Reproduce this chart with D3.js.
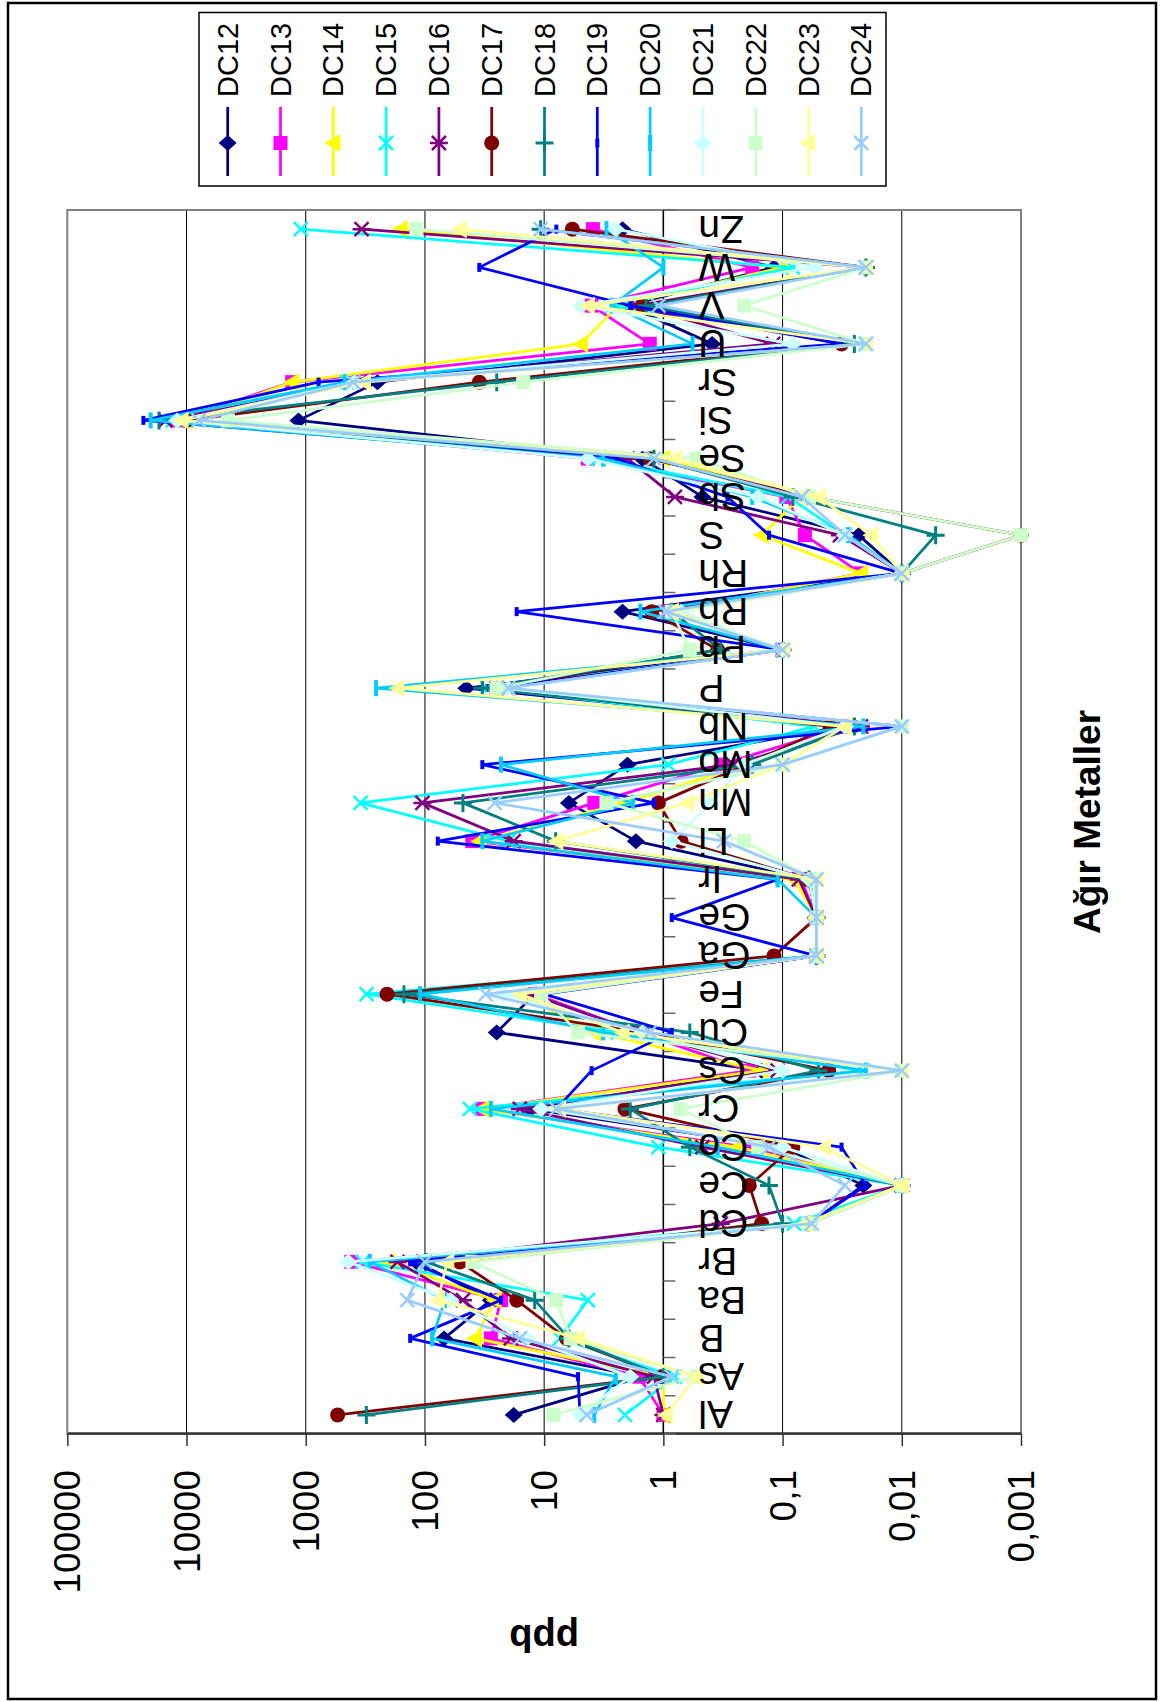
<!DOCTYPE html>
<html>
<head>
<meta charset="utf-8">
<script src="https://cdnjs.cloudflare.com/ajax/libs/d3/7.8.5/d3.min.js"></script>
<style>
  body { margin: 0; background: #fff; }
  svg { display: block; font-family: "Liberation Sans", Arial, sans-serif; }
</style>
</head>
<body>
<div id="chart"></div>
<script>
// DATA -----------------------------------------------------------
const categories = ["Al", "As", "B", "Ba", "Br", "Cd", "Ce", "Co", "Cr", "Cs", "Cu", "Fe", "Ga", "Ge", "Ir", "Li",
                    "Mn", "Mo", "Nb", "P", "Pb", "Rb", "Rh", "S", "Sb", "Se", "Si", "Sr", "U", "V", "W", "Zn"]

const valueTicks = [100000, 10000, 1000, 100, 10, 1, 0.1, 0.01, 0.001]
const tickLabels = ["100000", "10000", "1000", "100", "10", "1", "0,1", "0,01", "0,001"]

const seriesNames = ["DC12", "DC13", "DC14", "DC15", "DC16", "DC17", "DC18", "DC19", "DC20", "DC21", "DC22", "DC23", "DC24"]

//            Al    As   B    Ba   Br   Cd     Ce     Co     Cr   Cs     Cu   Fe   Ga     Ge     Ir     Li    Mn   Mo    Nb     P    Pb    Rb    Rh     S       Sb     Se   Si     Sr    U      V    W      Zn
const dc12 = [18,   1.5, 69,  28,  118, 0.06,  0.021, 0.1,   13,  0.15,  25,  12,  0.052, 0.052, 0.06,  1.7,  6.2, 2.0,  0.03,  45,  0.1,  2.2,  0.01,  0.023,  0.47,  1.5, 1150,  250,  0.39,  2.0, 0.118, 2.2]
const dc13 = [1.0,  1.6, 28,  23,  414, 0.06,  0.01,  0.2,   33,  0.19,  1.6, 12,  0.052, 0.052, 0.07,  40,   3.8, 0.33, 0.03,  25,  0.1,  0.9,  0.022, 0.065,  0.093, 4.3, 12000, 1300, 1.3,   4.0, 0.18,  3.9]
const dc14 = [1.0,  1.0, 38,  26,  203, 0.065, 0.01,  0.24,  33,  0.15,  3.8, 16,  0.052, 0.052, 0.08,  35,   2.1, 0.2,  0.03,  25,  0.1,  0.85, 0.022, 0.15,   0.07,  1.0, 10000, 1300, 4.9,   2.4, 0.1,   160]
const dc15 = [2.1,  0.8, 7.4, 4.3, 333, 0.08,  0.01,  1.1,   42,  0.021, 2.4, 309, 0.052, 0.052, 0.06,  20,   347, 0.91, 0.054, 30,  0.1,  0.85, 0.01,  0.03,   0.09,  3.5, 13000, 450,  0.02,  2.7, 0.082, 1100]
const dc16 = [1.0,  1.2, 19,  48,  170, 0.33,  0.01,  0.47,  16,  0.11,  1.6, 13,  0.052, 0.052, 0.073, 18,   105, 0.26, 0.022, 25,  0.1,  0.85, 0.01,  0.033,  0.8,   2.0, 15000, 350,  0.12,  1.7, 0.02,  340]
const dc17 = [540,  1.0, 6.5, 17,  51,  0.15,  0.19,  0.082, 2.1, 0.041, 1.5, 208, 0.118, 0.052, 0.06,  0.71, 1.1, 0.2,  0.04,  25,  0.35, 1.25, 0.01,  0.001,  0.06,  1.3, 10000, 35,   0.032, 1.5, 0.02,  5.8]
const dc18 = [310,  1.0, 6.2, 12,  98,  0.1,   0.13,  0.6,   1.9, 0.05,  0.6, 150, 0.052, 0.052, 0.06,  8,    48,  0.18, 0.025, 33,  0.33, 0.85, 0.01,  0.0052, 0.082, 1.2, 17000, 25,   0.025, 1.4, 0.02,  10.7]
const dc19 = [5,    5.2, 133, 23,  133, 0.06,  0.02,  0.032, 7.9, 4.0,   0.85, 10, 0.052, 0.85,  0.11,  78,   1.2, 33,   0.01,  25,  0.1,  17,   0.01,  0.13,   0.29,  2.5, 23000, 780,  0.032, 1.9, 35,    7.9]
const dc20 = [3.8,  2.5, 87,  68,  290, 0.06,  0.01,  0.35,  28,  0.02,  3.2, 110, 0.052, 0.052, 0.11,  33,   1.8, 23,   0.021, 257, 0.1,  1.56, 0.01,  0.028,  0.18,  3.2, 20000, 470,  0.57,  2.7, 1.0,   3.0]
const dc21 = [5,    1.9, 14,  61,  440, 0.06,  0.01,  0.1,   10.6, 0.1,  1.5, 22,  0.052, 0.052, 0.06,  0.85, 0.4, 0.21, 0.03,  20,  0.1,  0.71, 0.01,  0.03,   0.16,  4.3, 12000, 390,  0.082, 4.9, 0.054, 2.5]
const dc22 = [8.4,  0.53, 6,  7.9, 40,  0.06,  0.01,  0.16,  0.72, 0.01, 5.2, 10.6, 0.052, 0.052, 0.055, 0.21, 3.0, 0.1, 0.01,  25,  0.6,  0.85, 0.01,  0.001,  0.06,  0.53, 4500, 15,   0.02,  0.21, 0.02, 118]
const dc23 = [0.95, 0.53, 5.2, 78, 65,  0.065, 0.01,  0.045, 7.5, 0.01,  2.2, 16,  0.052, 0.052, 0.052, 7.9,  0.63, 0.1, 0.03,  170, 0.1,  0.85, 0.01,  0.018,  0.05,  0.8, 11000, 325,  0.02,  4.3, 0.02,  51]
const dc24 = [4.4,  0.85, 16, 141, 100, 0.057, 0.03,  0.13,  7.9, 0.01,  1.3, 31,  0.052, 0.052, 0.052, 0.31, 26,  0.1,  0.01,  20,  0.1,  0.96, 0.01,  0.03,   0.069, 1.2, 7900,  400,  0.02,  1.1, 0.02,  10.7]

const seriesValues = [dc12, dc13, dc14, dc15, dc16, dc17, dc18, dc19, dc20, dc21, dc22, dc23, dc24]

const seriesColors = ["#000080", "#FF00FF", "#FFFF00", "#00FFFF", "#800080", "#800000", "#008080",
                      "#0000FF", "#00CCFF", "#CCFFFF", "#CCFFCC", "#FFFF99", "#99CCFF"]
const seriesMarkers = ["diamond", "square", "triangle", "x", "star", "circle", "plus",
                       "shortbar", "longbar", "diamond", "square", "triangle", "x"]

// SETUP -----------------------------------------------------------
// the page is tall; the chart itself is laid out flat (1702 x 1167) and turned a quarter left
const pageW = 1167
const pageH = 1702

const plot = { left: 268, right: 1492, top: 67.3, bottom: 1021 }

const svg = d3.select("#chart").append("svg")
    .attr("width", pageW)
    .attr("height", pageH)

svg.append("rect")
    .attr("width", pageW)
    .attr("height", pageH)
    .attr("fill", "#fff")

const chart = svg.append("g")
    .attr("transform", `translate(0, ${pageH}) rotate(-90)`)

// outer frame
chart.append("rect")
    .attr("x", 3)
    .attr("y", 8)
    .attr("width", 1696)
    .attr("height", 1148)
    .attr("fill", "#fff")
    .attr("stroke", "#000")
    .attr("stroke-width", 2.5)

const xScale = d3.scaleBand()
    .domain(categories)
    .range([plot.left, plot.right])

const yScale = d3.scaleLog()
    .domain([0.001, 100000])
    .range([plot.bottom, plot.top])

const xMid = d => xScale(d) + xScale.bandwidth() / 2

// GRID -----------------------------------------------------------
chart.append("g")
    .selectAll("line")
    .data(valueTicks.filter(d => d > 0.001 && d < 100000))
    .join("line")
        .attr("x1", plot.left)
        .attr("x2", plot.right)
        .attr("y1", d => yScale(d))
        .attr("y2", d => yScale(d))
        .attr("stroke", "#000")
        .attr("stroke-width", 1)

chart.append("rect")
    .attr("x", plot.left)
    .attr("y", plot.top)
    .attr("width", plot.right - plot.left)
    .attr("height", plot.bottom - plot.top)
    .attr("fill", "none")
    .attr("stroke", "#808080")
    .attr("stroke-width", 2)

// AXES -----------------------------------------------------------
const yAxisGenerator = d3.axisLeft(yScale)
    .tickValues(valueTicks)
    .tickFormat((d, i) => tickLabels[i])
    .tickSize(12)
    .tickSizeOuter(0)
    .tickPadding(24)

const yAxis = chart.append("g")
    .attr("transform", `translate(${plot.left}, 0)`)
    .call(yAxisGenerator)

yAxis.select(".domain").attr("stroke", "#333").attr("stroke-width", 2.5)
yAxis.selectAll(".tick line").attr("stroke", "#333").attr("stroke-width", 1.5)
yAxis.selectAll(".tick text")
    .attr("font-size", 37)
    .attr("font-family", "'Liberation Sans', Arial, sans-serif")
    .attr("fill", "#000")
    .attr("dy", null)
    .attr("dominant-baseline", "central")

// category axis crosses at 1
const axisY = yScale(1)
const xAxis = chart.append("g")

xAxis.append("line")
    .attr("x1", plot.left)
    .attr("x2", plot.right)
    .attr("y1", axisY)
    .attr("y2", axisY)
    .attr("stroke", "#000")
    .attr("stroke-width", 1.5)

xAxis.selectAll(".cat-tick")
    .data(d3.range(categories.length + 1))
    .join("line")
        .attr("class", "cat-tick")
        .attr("x1", i => plot.left + i * xScale.step())
        .attr("x2", i => plot.left + i * xScale.step())
        .attr("y1", axisY)
        .attr("y2", axisY + 12)
        .attr("stroke", "#666")
        .attr("stroke-width", 1.5)

// axis title and chart title
chart.append("text")
    .attr("transform", `translate(64, ${(plot.top + plot.bottom) / 2}) rotate(-90)`)
    .attr("text-anchor", "middle")
    .attr("dominant-baseline", "central")
    .attr("font-size", 38)
    .attr("font-weight", "bold")
    .text("ppb")

chart.append("text")
    .attr("x", (plot.left + plot.right) / 2)
    .attr("y", 1087)
    .attr("text-anchor", "middle")
    .attr("dominant-baseline", "central")
    .attr("font-size", 37)
    .attr("font-weight", "bold")
    .text("Ağır Metaller")

// MARKERS -----------------------------------------------------------
function drawMarker(g, type, color) {
    if (type == "diamond") {
        g.append("path").attr("d", "M0,-9L8,0L0,9L-8,0Z").attr("fill", color)
    } else if (type == "square") {
        g.append("rect").attr("x", -7).attr("y", -7).attr("width", 14).attr("height", 14).attr("fill", color)
    } else if (type == "triangle") {
        g.append("path").attr("d", "M0,-9L9,7L-9,7Z").attr("fill", color)
    } else if (type == "circle") {
        g.append("circle").attr("r", 7.5).attr("fill", color)
    } else if (type == "x" || type == "star") {
        g.append("path").attr("d", "M-7,-7L7,7M-7,7L7,-7" + (type == "star" ? "M0,-9L0,9" : ""))
            .attr("stroke", color).attr("stroke-width", 2.5).attr("fill", "none")
    } else if (type == "plus") {
        g.append("path").attr("d", "M-9,0L9,0M0,-9L0,9")
            .attr("stroke", color).attr("stroke-width", 3).attr("fill", "none")
    } else if (type == "shortbar") {
        g.append("rect").attr("x", -4.5).attr("y", -2).attr("width", 9).attr("height", 4).attr("fill", color)
    } else if (type == "longbar") {
        g.append("rect").attr("x", -8).attr("y", -2).attr("width", 16).attr("height", 4).attr("fill", color)
    }
}

// DRAW DATA -----------------------------------------------------------
const line = d3.line()
    .x(d => xMid(d.cat))
    .y(d => yScale(d.value))

const seriesLayer = chart.append("g")

seriesNames.forEach((name, i) => {
    const points = categories.map((c, j) => ({ cat: c, value: seriesValues[i][j] }))
    const g = seriesLayer.append("g").attr("class", name)

    g.append("path")
        .datum(points)
        .attr("d", line)
        .attr("fill", "none")
        .attr("stroke", seriesColors[i])
        .attr("stroke-width", 2.75)
        .attr("stroke-linejoin", "round")

    points.forEach(p => {
        const m = g.append("g")
            .attr("transform", `translate(${xMid(p.cat)}, ${yScale(p.value)})`)
        drawMarker(m, seriesMarkers[i], seriesColors[i])
    })
})

// category labels sit on top of the lines
chart.append("g")
    .selectAll(".cat-label")
    .data(categories)
    .join("text")
        .attr("class", "cat-label")
        .attr("transform", d => `translate(${xMid(d)}, ${axisY + 35}) rotate(-90)`)
        .attr("text-anchor", "end")
        .attr("dominant-baseline", "central")
        .attr("font-size", 39)
        .text(d => d)

// LEGEND -----------------------------------------------------------
const legend = chart.append("g")

legend.append("rect")
    .attr("x", 1516)
    .attr("y", 199)
    .attr("width", 173.5)
    .attr("height", 687)
    .attr("fill", "#fff")
    .attr("stroke", "#000")
    .attr("stroke-width", 1.5)

const legendStep = 52.8

seriesNames.forEach((name, i) => {
    const ly = 227.7 + i * legendStep
    legend.append("line")
        .attr("x1", 1526)
        .attr("x2", 1595)
        .attr("y1", ly)
        .attr("y2", ly)
        .attr("stroke", seriesColors[i])
        .attr("stroke-width", 2.75)
    const m = legend.append("g").attr("transform", `translate(1559, ${ly})`)
    drawMarker(m, seriesMarkers[i], seriesColors[i])
    legend.append("text")
        .attr("x", 1605)
        .attr("y", ly)
        .attr("dominant-baseline", "central")
        .attr("font-size", 29)
        .text(name)
})
</script>
</body>
</html>
